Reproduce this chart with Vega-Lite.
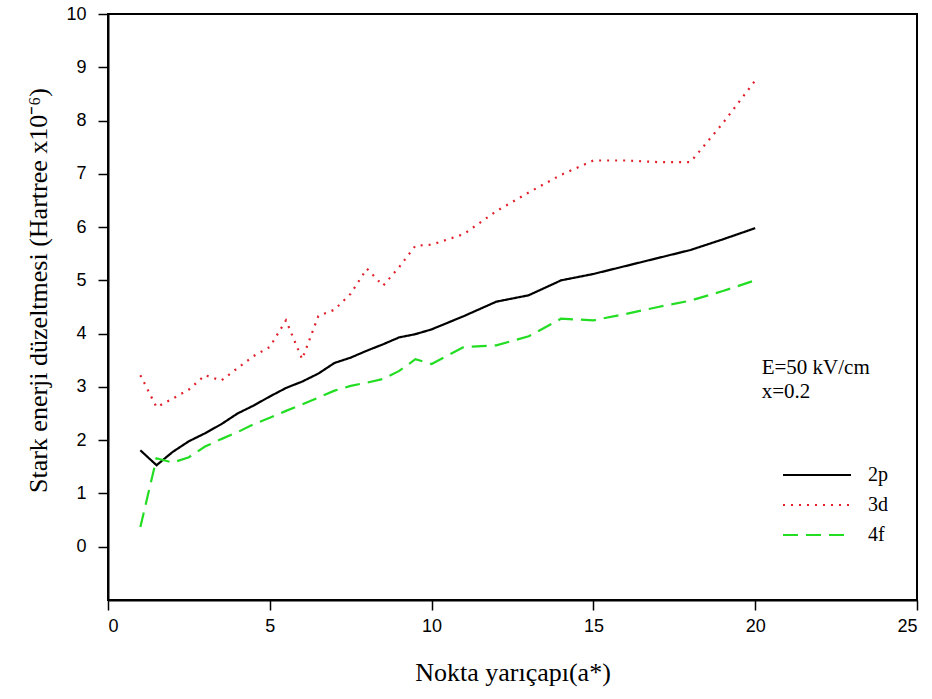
{
  "$schema": "https://vega.github.io/schema/vega-lite/v6.json",
  "width": 809,
  "height": 586,
  "autosize": {"type": "none"},
  "padding": {"left": 108, "top": 14, "right": 15, "bottom": 99},
  "background": "white",
  "config": {
    "view": {"stroke": "black", "strokeWidth": 2},
    "axis": {
      "domainColor": "black", "domainWidth": 2, "tickColor": "black", "tickWidth": 1.5, "tickSize": 10,
      "grid": false, "labelFont": "Liberation Sans", "labelFontSize": 18, "labelColor": "black",
      "titleFont": "Liberation Serif", "titleFontSize": 26, "titleFontWeight": "normal", "titleColor": "black"
    }
  },
  "datasets": {
    "lines": [
      {"s": "2p", "x": 1, "y": 1.81}, {"s": "2p", "x": 1.5, "y": 1.53}, {"s": "2p", "x": 2, "y": 1.78}, {"s": "2p", "x": 2.5, "y": 1.98},
      {"s": "2p", "x": 3, "y": 2.13}, {"s": "2p", "x": 3.5, "y": 2.3}, {"s": "2p", "x": 4, "y": 2.5}, {"s": "2p", "x": 4.5, "y": 2.65},
      {"s": "2p", "x": 5, "y": 2.82}, {"s": "2p", "x": 5.5, "y": 2.98}, {"s": "2p", "x": 6, "y": 3.1}, {"s": "2p", "x": 6.5, "y": 3.25},
      {"s": "2p", "x": 7, "y": 3.45}, {"s": "2p", "x": 7.5, "y": 3.55}, {"s": "2p", "x": 8, "y": 3.68}, {"s": "2p", "x": 8.5, "y": 3.8},
      {"s": "2p", "x": 9, "y": 3.93}, {"s": "2p", "x": 9.5, "y": 3.99}, {"s": "2p", "x": 10, "y": 4.08}, {"s": "2p", "x": 11, "y": 4.33},
      {"s": "2p", "x": 12, "y": 4.6}, {"s": "2p", "x": 13, "y": 4.72}, {"s": "2p", "x": 14, "y": 5.0}, {"s": "2p", "x": 15, "y": 5.12},
      {"s": "2p", "x": 16, "y": 5.27}, {"s": "2p", "x": 17, "y": 5.42}, {"s": "2p", "x": 18, "y": 5.57}, {"s": "2p", "x": 19, "y": 5.77},
      {"s": "2p", "x": 20, "y": 5.98},
      {"s": "3d", "x": 1, "y": 3.22}, {"s": "3d", "x": 1.5, "y": 2.62}, {"s": "3d", "x": 2, "y": 2.78}, {"s": "3d", "x": 2.5, "y": 2.95},
      {"s": "3d", "x": 3, "y": 3.22}, {"s": "3d", "x": 3.5, "y": 3.12}, {"s": "3d", "x": 4, "y": 3.35}, {"s": "3d", "x": 4.5, "y": 3.58},
      {"s": "3d", "x": 5, "y": 3.75}, {"s": "3d", "x": 5.5, "y": 4.25}, {"s": "3d", "x": 6, "y": 3.52}, {"s": "3d", "x": 6.5, "y": 4.33},
      {"s": "3d", "x": 7, "y": 4.45}, {"s": "3d", "x": 7.5, "y": 4.75}, {"s": "3d", "x": 8, "y": 5.22}, {"s": "3d", "x": 8.5, "y": 4.9},
      {"s": "3d", "x": 9, "y": 5.25}, {"s": "3d", "x": 9.5, "y": 5.65}, {"s": "3d", "x": 10, "y": 5.67}, {"s": "3d", "x": 11, "y": 5.87},
      {"s": "3d", "x": 12, "y": 6.3}, {"s": "3d", "x": 13, "y": 6.65}, {"s": "3d", "x": 14, "y": 6.98}, {"s": "3d", "x": 15, "y": 7.25},
      {"s": "3d", "x": 16, "y": 7.25}, {"s": "3d", "x": 17, "y": 7.22}, {"s": "3d", "x": 18, "y": 7.22}, {"s": "3d", "x": 19, "y": 7.95},
      {"s": "3d", "x": 20, "y": 8.75},
      {"s": "4f", "x": 1, "y": 0.37}, {"s": "4f", "x": 1.5, "y": 1.66}, {"s": "4f", "x": 2, "y": 1.58}, {"s": "4f", "x": 2.5, "y": 1.68},
      {"s": "4f", "x": 3, "y": 1.88}, {"s": "4f", "x": 3.5, "y": 2.02}, {"s": "4f", "x": 4, "y": 2.15}, {"s": "4f", "x": 4.5, "y": 2.3},
      {"s": "4f", "x": 5, "y": 2.42}, {"s": "4f", "x": 5.5, "y": 2.55}, {"s": "4f", "x": 6, "y": 2.67}, {"s": "4f", "x": 6.5, "y": 2.8},
      {"s": "4f", "x": 7, "y": 2.93}, {"s": "4f", "x": 7.5, "y": 3.02}, {"s": "4f", "x": 8, "y": 3.08}, {"s": "4f", "x": 8.5, "y": 3.15},
      {"s": "4f", "x": 9, "y": 3.3}, {"s": "4f", "x": 9.5, "y": 3.52}, {"s": "4f", "x": 10, "y": 3.43}, {"s": "4f", "x": 11, "y": 3.75},
      {"s": "4f", "x": 12, "y": 3.78}, {"s": "4f", "x": 13, "y": 3.95}, {"s": "4f", "x": 14, "y": 4.28}, {"s": "4f", "x": 15, "y": 4.25},
      {"s": "4f", "x": 16, "y": 4.37}, {"s": "4f", "x": 17, "y": 4.5}, {"s": "4f", "x": 18, "y": 4.62}, {"s": "4f", "x": 19, "y": 4.8},
      {"s": "4f", "x": 20, "y": 5.0}
    ],
    "notes": [
      {"x": 20.2, "y": 3.35, "t": "E=50 kV/cm"},
      {"x": 20.2, "y": 2.9, "t": "x=0.2"}
    ]
  },
  "layer": [
    {
      "data": {"name": "lines"},
      "mark": {"type": "line", "clip": true},
      "encoding": {
        "x": {"field": "x", "type": "quantitative", "scale": {"domain": [0, 25], "nice": false},
              "axis": {"values": [0, 5, 10, 15, 20, 25], "title": "Nokta yarıçapı(a*)", "labelPadding": 7, "titlePadding": 24}},
        "y": {"field": "y", "type": "quantitative", "scale": {"domain": [-1, 10], "nice": false, "zero": false},
              "axis": {"values": [0, 1, 2, 3, 4, 5, 6, 7, 8, 9, 10], "title": "Stark enerji düzeltmesi (Hartree x10⁻⁶)", "labelPadding": 12, "titlePadding": 14, "titleY": 276}},
        "order": {"field": "x", "type": "quantitative"},
        "color": {"field": "s", "type": "nominal",
                  "scale": {"domain": ["2p", "3d", "4f"], "range": ["#000000", "#e0202a", "#22dd22"]},
                  "legend": {"orient": "none", "legendX": 699, "legendY": 451, "title": null,
                             "symbolType": "M-4,0H4", "symbolSize": 289, "symbolStrokeWidth": 2.2,
                             "labelFont": "Liberation Serif", "labelFontSize": 20, "labelColor": "black",
                             "labelOffset": 41, "rowPadding": 10, "symbolOffset": 0}},
        "strokeDash": {"field": "s", "type": "nominal",
                       "scale": {"domain": ["2p", "3d", "4f"], "range": [[1, 0], [2, 6], [15, 8]]},
                       "legend": null},
        "strokeWidth": {"value": 2.2}
      }
    },
    {
      "data": {"name": "notes"},
      "mark": {"type": "text", "align": "left", "baseline": "middle", "font": "Liberation Serif", "fontSize": 21, "color": "black"},
      "encoding": {
        "x": {"field": "x", "type": "quantitative"},
        "y": {"field": "y", "type": "quantitative"},
        "text": {"field": "t"}
      }
    }
  ]
}
